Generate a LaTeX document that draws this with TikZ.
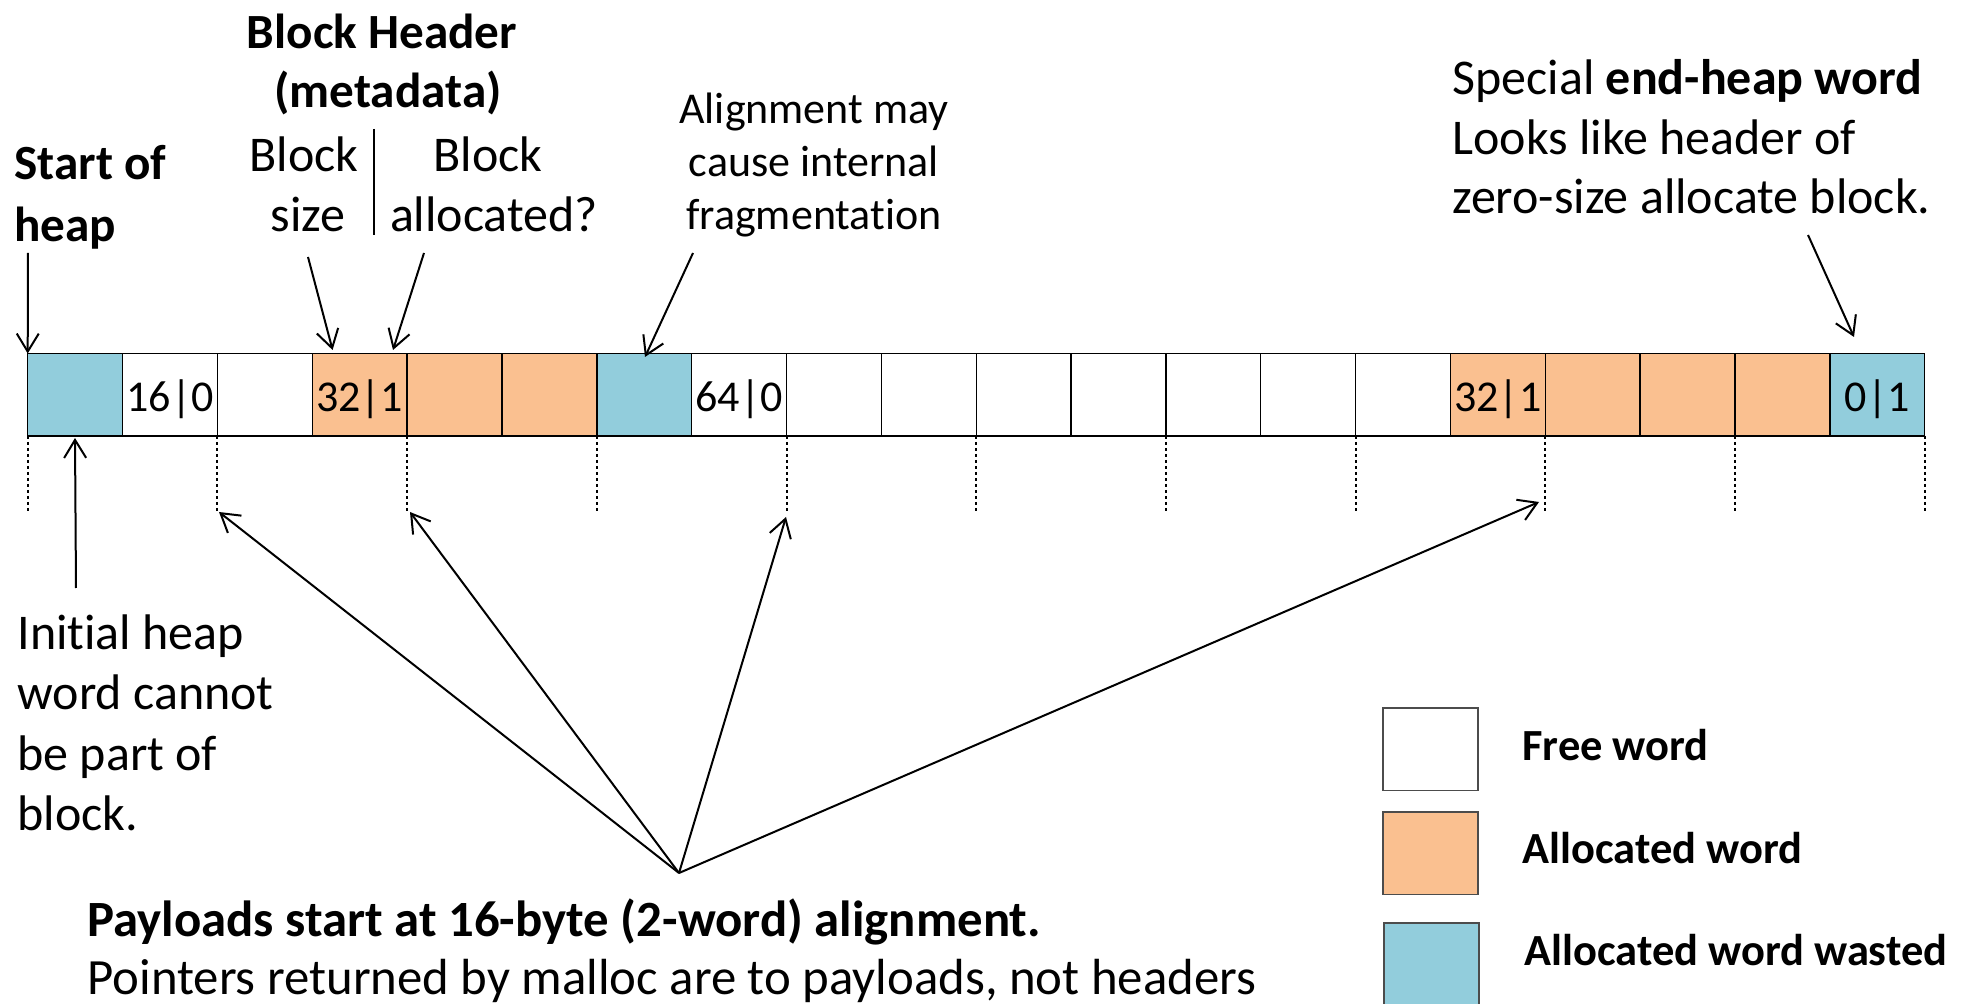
\documentclass[tikz,border=0pt]{standalone}
\usepackage{fontspec}
\setmainfont{Carlito}[Ligatures=NoCommon]
\usetikzlibrary{arrows.meta}
\definecolor{wasteblue}{HTML}{92CDDC}
\definecolor{allocorange}{HTML}{FAC090}
\tikzset{
  cell/.style={draw=black, line width=0.7pt, minimum width=47.425pt, minimum height=41.2pt,
    inner sep=0pt, outer sep=0pt, anchor=north west, text height=17pt, text depth=0pt,
    font=\fontsize{22pt}{26pt}\selectfont},
  legbox/.style={draw=black!70, line width=0.7pt, minimum width=47.5pt, minimum height=41.3pt,
    inner sep=0pt, outer sep=0pt, anchor=north west},
  bigtxt/.style={inner sep=0pt, font=\fontsize{25pt}{30pt}\selectfont},
  bigbold/.style={inner sep=0pt, font=\fontsize{24.6pt}{30pt}\selectfont\bfseries},
  midtxt/.style={inner sep=0pt, font=\fontsize{22pt}{27pt}\selectfont},
  legtxt/.style={inner sep=0pt, font=\fontsize{22.25pt}{27pt}\selectfont\bfseries},
  arr/.style={line width=1pt, -{Straight Barb[length=9pt,width=11pt]}},
  guide/.style={line width=1pt, dash pattern=on 1.5pt off 1.5pt},
}
\begin{document}
\begin{tikzpicture}[x=0.5pt,y=-0.5pt]
\useasboundingbox (0,0) rectangle (1969,1004);
\clip (0,0) rectangle (1969,1004);

% heap words
\foreach \i/\col/\lab in {0/wasteblue/{},1/white/{16|0},2/white/{},3/allocorange/{32|1},
  4/allocorange/{},5/allocorange/{},6/wasteblue/{},7/white/{64|0},8/white/{},9/white/{},
  10/white/{},11/white/{},12/white/{},13/white/{},14/white/{},15/allocorange/{32|1},
  16/allocorange/{},17/allocorange/{},18/allocorange/{},19/wasteblue/{0|1}}
  \node[cell, fill=\col] (c\i) at ({27.7+94.85*\i},353.5) {\lab};

% 16-byte alignment guides
\foreach \k in {0,2,...,18}
  \draw[guide] (c\k.south west) -- ++(0,75);
\draw[guide] (c19.south east) -- ++(0,75);

% start of heap
\node[bigbold, anchor=base west] (soh1) at (14,180) {Start of};
\node[bigbold, anchor=base west] (soh2) at (14,242) {heap};
\coordinate (a0) at (28,253);
\draw[arr] (a0) -- (c0.north west);

% block header
\node[bigbold, anchor=base] (bh1) at (382,49) {Block Header};
\node[bigbold, anchor=base] (bh2) at (388,108) {(metadata)};
\node[bigtxt, anchor=base] (bs1) at (304,172) {Block};
\node[bigtxt, anchor=base] (bs2) at (308,232) {size};
\node[bigtxt, anchor=base] (ba1) at (488,172) {Block};
\node[bigtxt, anchor=base] (ba2) at (494,232) {allocated?};
\draw[line width=1pt] (374,129) -- (374,235);
\coordinate (a1s) at (308,257);
\coordinate (a1e) at (332.6,350);
\draw[arr] (a1s) -- (a1e);
\coordinate (a2s) at (424,253);
\coordinate (a2e) at (393,350);
\draw[arr] (a2s) -- (a2e);

% internal fragmentation
\node[midtxt, anchor=base] (al1) at (814,124) {Alignment may};
\node[midtxt, anchor=base] (al2) at (814,177) {cause internal};
\node[midtxt, anchor=base] (al3) at (814,230) {fragmentation};
\coordinate (a3s) at (693,253);
\coordinate (a3e) at (645,357);
\draw[arr] (a3s) -- (a3e);

% end-heap word
\node[bigtxt, anchor=base west] (eh1) at (1452,95) {Special \textbf{end-heap word}};
\node[bigtxt, anchor=base west] (eh2) at (1452,155) {Looks like header of};
\node[bigtxt, anchor=base west] (eh3) at (1452,214) {zero-size allocate block.};
\coordinate (a4s) at (1808,235);
\coordinate (a4e) at (1854,337);
\draw[arr] (a4s) -- (a4e);

% initial heap word
\coordinate (a5s) at (76,588);
\coordinate (a5e) at (75,438);
\draw[arr] (a5s) -- (a5e);
\node[bigtxt, anchor=base west] (ih1) at (17,650) {Initial heap};
\node[bigtxt, anchor=base west] (ih2) at (17,710) {word cannot};
\node[bigtxt, anchor=base west] (ih3) at (17,770) {be part of};
\node[bigtxt, anchor=base west] (ih4) at (17,830) {block.};

% payload pointers
\coordinate (src) at (679,873);
\coordinate (t2) at (219,512);
\coordinate (t4) at (410,512);
\coordinate (t8) at (786,517);
\coordinate (t16) at (1539,502);
\foreach \t in {t2,t4,t8,t16}
  \draw[arr] (src) -- (\t);
\node[inner sep=0pt, anchor=base west, font=\fontsize{25.4pt}{30pt}\selectfont\bfseries] (pl1) at (87,936)
  {Payloads start at 16-byte (2-word) alignment.};
\node[inner sep=0pt, anchor=base west, font=\fontsize{25.4pt}{30pt}\selectfont] (pl2) at (87,994)
  {Pointers returned by malloc are to payloads, not headers};

% legend
\node[legbox, fill=white] (kfree) at (1383,708) {};
\node[legbox, fill=allocorange] (kalloc) at (1383,812) {};
\node[legbox, fill=wasteblue] (kwaste) at (1384,923) {};
\node[legtxt, anchor=base west] (lfree) at (1522,760) {Free word};
\node[legtxt, anchor=base west] (lalloc) at (1522,863) {Allocated word};
\node[legtxt, anchor=base west] (lwaste) at (1524,965) {Allocated word wasted};
\end{tikzpicture}
\end{document}
